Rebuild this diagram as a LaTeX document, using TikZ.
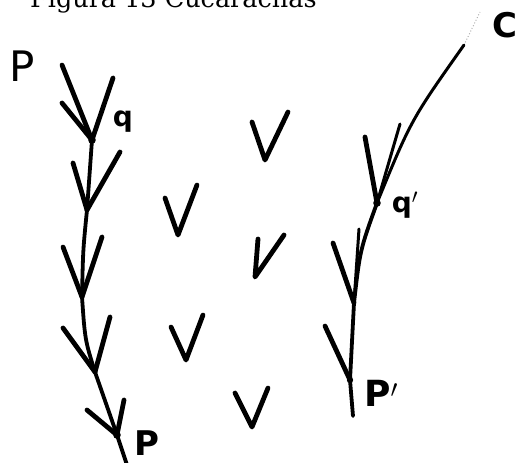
\documentclass[tikz,border=0pt]{standalone}
\usepackage{fontspec}
\setmainfont{DejaVu Serif}
\newfontfamily\handfont{DejaVu Sans}
\tikzset{
  stem/.style={line width=3.8pt, line cap=round, line join=round},
  arm/.style={line width=4.8pt, line cap=round, line join=round},
  thin/.style={line width=3pt, line cap=round, line join=round},
  lbl/.style={inner sep=0pt},
  ttl/.style={font=\fontsize{25.5}{25.5}\selectfont, inner sep=0pt, anchor=base west}
}
\begin{document}
\begin{tikzpicture}[x=1pt,y=-1pt]
\useasboundingbox (0,0) rectangle (523,463);
\clip (0,0) rectangle (523,463);
\node[ttl] (title) at (30,7.5) {Figura 13 Cucarachas};

% left chain
\coordinate (q) at (92,140);
\coordinate (v2) at (87,210);
\coordinate (v3) at (82,297);
\coordinate (v4) at (95,372);
\coordinate (p) at (117,435);
\coordinate (pend) at (127,465);
\coordinate (a1) at (62,65);
\coordinate (a2) at (62,103);
\coordinate (a3) at (113,78);
\coordinate (b1) at (73,163);
\coordinate (b2) at (120,152);
\coordinate (c1) at (63,247);
\coordinate (c2) at (102,237);
\coordinate (d1) at (63,328);
\coordinate (d2) at (110,317);
\coordinate (e1) at (87,410);
\coordinate (e2) at (124,400);
\draw[stem] (q) .. controls (90,175) .. (v2) .. controls (83,250) .. (v3) .. controls (85,340) .. (v4) -- (p) -- (pend);
\draw[arm] (a1) -- (q);
\draw[arm] (a2) -- (q);
\draw[arm] (a3) -- (q);
\draw[arm] (b1) -- (v2);
\draw[arm] (b2) -- (v2);
\draw[arm] (c1) -- (v3);
\draw[arm] (c2) -- (v3);
\draw[arm] (d1) -- (v4);
\draw[arm] (d2) -- (v4);
\draw[arm] (e1) -- (p);
\draw[arm] (e2) -- (p);
\fill (q) circle (3.8pt);
\fill (p) circle (3.8pt);

% middle V's
\coordinate (m1l) at (252,122); \coordinate (m1v) at (265,160); \coordinate (m1r) at (288,112);
\coordinate (m2l) at (165,198); \coordinate (m2v) at (178,235); \coordinate (m2r) at (197,185);
\coordinate (m3l) at (258,239); \coordinate (m3v) at (255,277); \coordinate (m3r) at (284,235);
\coordinate (m4l) at (171,327); \coordinate (m4v) at (186,360); \coordinate (m4r) at (203,315);
\coordinate (m5l) at (235,393); \coordinate (m5v) at (252,427); \coordinate (m5r) at (268,388);
\draw[arm] (m1l) -- (m1v) -- (m1r);
\draw[arm] (m2l) -- (m2v) -- (m2r);
\draw[arm] (m3l) -- (m3v) -- (m3r);
\draw[arm] (m4l) -- (m4v) -- (m4r);
\draw[arm] (m5l) -- (m5v) -- (m5r);

% right chain
\coordinate (ctop) at (464,45);
\coordinate (cfaint) at (480,12);
\coordinate (qq) at (377,203);
\coordinate (w2) at (354,303);
\coordinate (pp) at (350,380);
\coordinate (ppend) at (353,416);
\coordinate (f1) at (365,137);
\coordinate (f2) at (400,124);
\coordinate (g1) at (333,243);
\coordinate (g2) at (359,229);
\coordinate (h1) at (325,326);
\draw[gray!60, line width=1pt, dotted] (ctop) -- (cfaint);
\draw[thin] (ctop) .. controls (411,120) .. (qq);
\draw[stem] (qq) .. controls (360,250) .. (w2) -- (pp) -- (ppend);
\draw[arm] (f1) -- (qq);
\draw[thin] (f2) -- (qq);
\draw[arm] (g1) -- (w2);
\draw[thin] (g2) -- (w2);
\draw[arm] (h1) -- (pp);
\fill (qq) circle (3.8pt);
\fill (pp) circle (3.2pt);

% labels
\node[lbl, font=\fontsize{42}{42}\selectfont\handfont] (lP) at (22,66) {P};
\node[lbl, font=\fontsize{28}{28}\selectfont\handfont\bfseries] (lq) at (123,122) {q};
\node[lbl, font=\fontsize{28}{28}\selectfont\handfont\bfseries] (lqq) at (405,205) {q$'$};
\node[lbl, font=\fontsize{34}{34}\selectfont\handfont\bfseries, anchor=base] (lp) at (147,455) {P};
\node[lbl, font=\fontsize{36}{36}\selectfont\handfont\bfseries] (lpp) at (381,393) {P$'$};
\node[lbl, font=\fontsize{34}{34}\selectfont\handfont\bfseries] (lC) at (505,25) {C};
\end{tikzpicture}
\end{document}
